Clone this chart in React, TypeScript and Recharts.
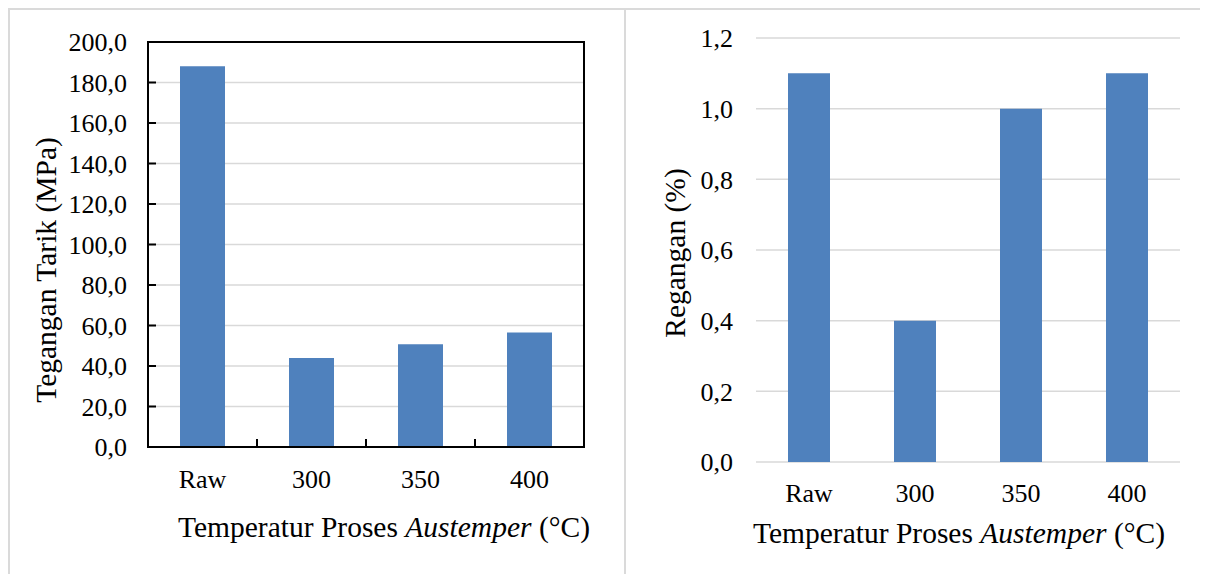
import { BarChart, Bar, XAxis, YAxis, CartesianGrid, ReferenceArea } from "recharts";

const CATEGORIES = ["Raw", "300", "350", "400"];
const TENSILE = [188.0, 44.0, 50.7, 56.6]; // MPa
const STRAIN = [1.1, 0.4, 1.0, 1.1]; // %
const TENSILE_TICKS = [0, 20, 40, 60, 80, 100, 120, 140, 160, 180, 200];
const STRAIN_TICKS = [0, 0.2, 0.4, 0.6, 0.8, 1.0, 1.2];

const BLUE = "#4f81bd";
const GRID = "#d9d9d9";
const PANEL_LINE = "#dadada";
const FONT = "'Liberation Serif', 'Times New Roman', serif";
const TICK_SIZE = 26;
const TITLE_SIZE = 29.5;

const tensileData = CATEGORIES.map((name, i) => ({ name, value: TENSILE[i] }));
const strainData = CATEGORIES.map((name, i) => ({ name, value: STRAIN[i] }));

const comma = (v: number) => v.toFixed(1).replace(".", ",");

const tickStyle = { fill: "#000", fontSize: TICK_SIZE, fontFamily: FONT };

const LEFT_X_GAP = 23;

// x tick with the small inner marks Excel puts between categories
const BoxedTick = (props: any) => {
  const { x, y, payload, index, width, visibleTicksCount } = props;
  const half =
    payload && payload.offset > 0 ? payload.offset : width && visibleTicksCount ? width / visibleTicksCount / 2 : NaN;
  const axisY = y - LEFT_X_GAP;
  const edge = payload.coordinate - half;
  return (
    <g>
      {index > 0 && !Number.isNaN(edge) && (
        <line x1={edge} x2={edge} y1={axisY} y2={axisY - 8} stroke="#000" strokeWidth={2} />
      )}
      <text x={x} y={y} dy="0.71em" textAnchor="middle" fill="#000" fontSize={TICK_SIZE} fontFamily={FONT}>
        {payload.value}
      </text>
    </g>
  );
};

const XTitle = ({ x, y }: { x: number; y: number }) => (
  <text x={x} y={y} textAnchor="middle" fill="#000" fontSize={TITLE_SIZE} fontFamily={FONT}>
    <tspan>Temperatur Proses </tspan>
    <tspan fontStyle="italic">Austemper</tspan>
    <tspan> (°C)</tspan>
  </text>
);

const YTitle = ({ x, y, text }: { x: number; y: number; text: string }) => (
  <text
    x={x}
    y={y}
    transform={`rotate(-90 ${x} ${y})`}
    textAnchor="middle"
    fill="#000"
    fontSize={TITLE_SIZE}
    fontFamily={FONT}
  >
    {text}
  </text>
);

const TensileChart = () => (
  <BarChart width={617} height={566} data={tensileData} margin={{ top: 34, right: 41, left: 0, bottom: 0 }}>
    <CartesianGrid vertical={false} stroke={GRID} strokeWidth={1.5} />
    <XAxis
      dataKey="name"
      height={127}
      tickSize={0}
      tickMargin={LEFT_X_GAP}
      tickLine={false}
      axisLine={{ stroke: "#000", strokeWidth: 2 }}
      tick={<BoxedTick />}
      interval={0}
      label={() => <XTitle x={376} y={529} />}
    />
    <YAxis
      width={140}
      domain={[0, 200]}
      ticks={TENSILE_TICKS}
      interval={0}
      tickFormatter={comma}
      tick={tickStyle}
      tickSize={-8}
      tickMargin={29}
      tickLine={{ stroke: "#000", strokeWidth: 2 }}
      axisLine={{ stroke: "#000", strokeWidth: 2 }}
      label={() => <YTitle x={48} y={262} text="Tegangan Tarik (MPa)" />}
    />
    <Bar dataKey="value" fill={BLUE} barSize={45} isAnimationActive={false} />
    <ReferenceArea y1={0} y2={200} fill="none" stroke="#000" strokeWidth={2} ifOverflow="visible" />
  </BarChart>
);

const StrainChart = () => (
  <BarChart width={583} height={566} data={strainData} margin={{ top: 30, right: 28, left: 0, bottom: 0 }}>
    <CartesianGrid vertical={false} stroke={GRID} strokeWidth={1.5} />
    <XAxis
      dataKey="name"
      height={112}
      tickSize={0}
      tickMargin={22}
      tickLine={false}
      axisLine={false}
      tick={tickStyle}
      interval={0}
      label={() => <XTitle x={334} y={535} />}
    />
    <YAxis
      width={131}
      domain={[0, 1.2]}
      ticks={STRAIN_TICKS}
      interval={0}
      tickFormatter={comma}
      tick={tickStyle}
      tickSize={0}
      tickMargin={23}
      tickLine={false}
      axisLine={false}
      label={() => <YTitle x={60} y={245} text="Regangan (%)" />}
    />
    <Bar dataKey="value" fill={BLUE} barSize={42} isAnimationActive={false} />
  </BarChart>
);

export default function App() {
  return (
    <div style={{ position: "relative", width: 1200, height: 566, background: "#fff" }}>
      <style>{"body{overflow:hidden}"}</style>
      <div style={{ position: "absolute", left: 0, top: 0, width: 1200, height: 2, background: PANEL_LINE }} />
      <div style={{ position: "absolute", left: 0, top: 0, width: 2, height: 566, background: PANEL_LINE }} />
      <div style={{ position: "absolute", left: 616, top: 0, width: 2, height: 566, background: PANEL_LINE }} />
      <div style={{ position: "absolute", left: 0, top: 0 }}>
        <TensileChart />
      </div>
      <div style={{ position: "absolute", left: 617, top: 0 }}>
        <StrainChart />
      </div>
    </div>
  );
}
